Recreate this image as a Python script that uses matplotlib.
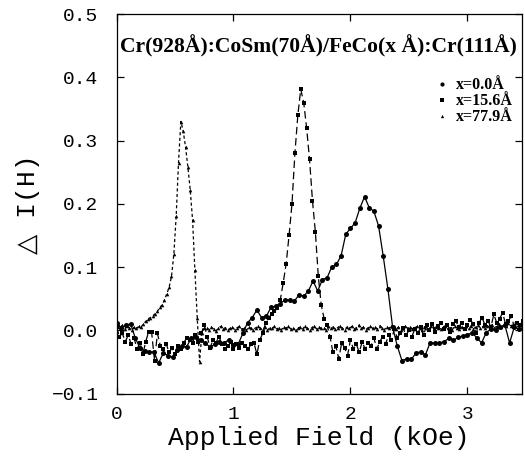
import numpy as np
import matplotlib
matplotlib.use("Agg")
import matplotlib.pyplot as plt
from matplotlib.lines import Line2D

# ---------------- data ----------------
title_text = "Cr(928Å):CoSm(70Å)/FeCo(x Å):Cr(111Å)"
labels = ["x=0.0Å", "x=15.6Å", "x=77.9Å"]
x_ticks = [0, 1, 2, 3]
y_ticks = [-0.1, 0.0, 0.1, 0.2, 0.3, 0.4, 0.5]

# x = 0.0 A (circles), field grid start 0.00 step 0.04 kOe
h0_start, h0_step = 0.00, 0.04
dI_0 = [0.012, 0.003, 0.008, 0.010, -0.012, -0.028, -0.033, -0.035, -0.034, -0.052,
        -0.036, -0.040, -0.043, -0.031, -0.025, -0.026, -0.012, -0.010, -0.016, -0.020,
        -0.027, -0.022, -0.018, -0.020, -0.015, -0.024, -0.022, -0.005, 0.012, 0.020,
        0.032, 0.020, 0.022, 0.036, 0.038, 0.042, 0.048, 0.048, 0.046, 0.056,
        0.054, 0.062, 0.078, 0.062, 0.080, 0.083, 0.100, 0.104, 0.118, 0.152,
        0.161, 0.170, 0.193, 0.211, 0.194, 0.188, 0.165, 0.117, 0.065, 0.005,
        -0.025, -0.048, -0.045, -0.046, -0.036, -0.034, -0.039, -0.020, -0.020, -0.020,
        -0.018, -0.013, -0.016, -0.011, -0.009, -0.007, -0.004, -0.012, -0.020, -0.004,
        0.002, 0.000, 0.005, 0.008, -0.020, 0.005, 0.002, 0.005]

# x = 15.6 A (squares), field grid start 0.000 step 0.025 kOe
h1_start, h1_step = 0.000, 0.025
dI_1 = [0.005, -0.010, -0.005, -0.018, -0.008, -0.022, -0.012, -0.030, -0.020, -0.038,
        -0.018, -0.002, -0.003, -0.048, -0.005, -0.025, -0.030, -0.022, -0.035, -0.028,
        -0.038, -0.025, -0.030, -0.020, -0.012, -0.015, -0.020, -0.008, -0.018, -0.005,
        0.009, -0.010, -0.028, -0.015, -0.020, -0.010, -0.022, -0.030, -0.025, -0.018,
        -0.030, -0.022, -0.028, -0.020, -0.025, -0.030, -0.022, -0.020, -0.038, -0.015,
        -0.005, 0.012, 0.020, 0.025, 0.030, 0.035, 0.048, 0.075, 0.105, 0.150,
        0.200, 0.280, 0.340, 0.381, 0.360, 0.320, 0.270, 0.205, 0.155, 0.085,
        0.040, 0.018, 0.008, -0.010, -0.035, -0.025, -0.045, -0.020, -0.028, -0.040,
        -0.015, -0.030, -0.022, -0.035, -0.018, -0.030, -0.020, -0.025, -0.012, -0.030,
        -0.018, -0.010, -0.022, -0.008, -0.015, 0.002, -0.012, -0.005, 0.003, -0.008,
        0.000, -0.010, 0.002, -0.005, 0.005, -0.008, 0.008, 0.000, 0.010, -0.002,
        0.006, 0.012, 0.002, 0.008, -0.003, 0.010, 0.015, 0.005, 0.012, 0.002,
        0.008, 0.016, 0.010, -0.005, 0.012, 0.020, 0.008, 0.015, 0.005, 0.025,
        0.012, 0.018, 0.028, 0.010, 0.015, 0.022, 0.005, 0.012, 0.008, 0.015]

# x = 77.9 A (triangles), field grid start 0.01 step 0.02 kOe
h2_start, h2_step = 0.01, 0.02
dI_2 = [0.010, 0.005, 0.008, 0.002, 0.007, 0.004, 0.000, 0.005, 0.003, 0.006,
        0.005, 0.010, 0.014, 0.018, 0.020, 0.023, 0.026, 0.030, 0.036, 0.040,
        0.048, 0.058, 0.068, 0.085, 0.120, 0.180, 0.265, 0.330, 0.315, 0.290,
        0.258, 0.222, 0.175, 0.095, 0.020, -0.050, -0.004, 0.003,
        0.004, 0.001, 0.005, 0.002, -0.001, 0.003, 0.006, 0.002, 0.004, 0.000,
        0.003, 0.005, 0.001, 0.004, 0.006, 0.002, 0.003, 0.000, 0.005, 0.003,
        0.001, 0.004, 0.006, 0.003, 0.002, 0.005, 0.000, 0.004, 0.003, 0.006,
        0.002, 0.004, 0.001, 0.005, 0.003, 0.006, 0.002, 0.004, 0.000, 0.003,
        0.005, 0.002, 0.006, 0.003, 0.001, 0.004, 0.007, 0.002, 0.005, 0.003,
        0.004, 0.001, 0.006, 0.003, 0.005, 0.002, 0.004, 0.007, 0.003, 0.001,
        0.005, 0.003, 0.006, 0.002, 0.004, 0.008, 0.003, 0.005, 0.001, 0.004,
        0.006, 0.003, 0.005, 0.002, 0.007, 0.004, 0.001, 0.005, 0.003, 0.006,
        0.004, 0.002, 0.005, 0.001, 0.004, 0.006, 0.003, 0.005, 0.002, 0.004,
        0.006, 0.003, 0.001, 0.005, 0.004, 0.002, 0.006, 0.003, 0.005, 0.004,
        0.002, 0.005, 0.007, 0.003, 0.004, 0.001, 0.006, 0.004, 0.002, 0.005,
        0.003, 0.006, 0.004, 0.007, 0.002, 0.005, 0.008, 0.004, 0.006, 0.003,
        0.007, 0.005, 0.009, 0.004, 0.006, 0.010, 0.005, 0.008, 0.006, 0.011,
        0.007, 0.009, 0.012, 0.008, 0.010, 0.011]

H0 = h0_start + h0_step * np.arange(len(dI_0))
H1 = h1_start + h1_step * np.arange(len(dI_1))
H2 = h2_start + h2_step * np.arange(len(dI_2))

# ---------------- figure ----------------
W, Hh = 525, 459
fig = plt.figure(figsize=(W / 100, Hh / 100), dpi=100)
ax = fig.add_axes([116.5 / W, (Hh - 393.5) / Hh, (522 - 116.5) / W, (393.5 - 14) / Hh])

mono = ["Liberation Mono", "DejaVu Sans Mono"]
serif = ["Liberation Serif", "DejaVu Serif"]

ax.plot(H0, dI_0, color="k", lw=0.9, ls="-", marker="o", ms=3.6, mew=0)
ax.plot(H1, dI_1, color="k", lw=0.9, ls=(0, (6, 3)), marker="s", ms=2.6, mew=0)
ax.plot(H2, dI_2, color="k", lw=0.9, ls=(0, (2.5, 2)), marker="^", ms=2.6, mew=0)

ax.set_xlim(0, 3.466)
ax.set_ylim(-0.1, 0.5)
ax.set_xticks(x_ticks)
ax.set_yticks(y_ticks)
ax.set_xticklabels([str(t) for t in x_ticks], fontfamily=mono, fontsize=14)
ax.set_yticklabels([f"{t:.1f}".replace("-", "\u2212") for t in y_ticks], fontfamily=mono, fontsize=14)
ax.tick_params(direction="in", length=5, width=0.9, top=True, right=True)
ax.tick_params(axis="y", pad=13)
ax.tick_params(axis="x", pad=9)
for s in ax.spines.values():
    s.set_linewidth(0.9)

ax.set_xlabel("Applied Field (kOe)", fontfamily=mono, fontsize=19, labelpad=2)
ax.set_ylabel("\u25B3 I(H)", fontfamily=["Liberation Mono", "DejaVu Sans"], fontsize=19, labelpad=8)

ax.text(0.008, 0.915, title_text, transform=ax.transAxes, fontfamily=serif,
        fontweight="bold", fontsize=15.6, ha="left", va="center")

handles = [Line2D([], [], color="k", ls="none", marker="o", ms=3.0, mew=0),
           Line2D([], [], color="k", ls="none", marker="s", ms=2.4, mew=0),
           Line2D([], [], color="k", ls="none", marker="^", ms=2.4, mew=0)]
leg = ax.legend(handles, labels, loc="upper left", bbox_to_anchor=(0.775, 0.85),
                frameon=False, handlelength=0.6, handletextpad=0.6, labelspacing=0.0,
                borderaxespad=0, prop={"family": serif, "weight": "bold", "size": 11.5})

fig.savefig("out.png", dpi=100)
